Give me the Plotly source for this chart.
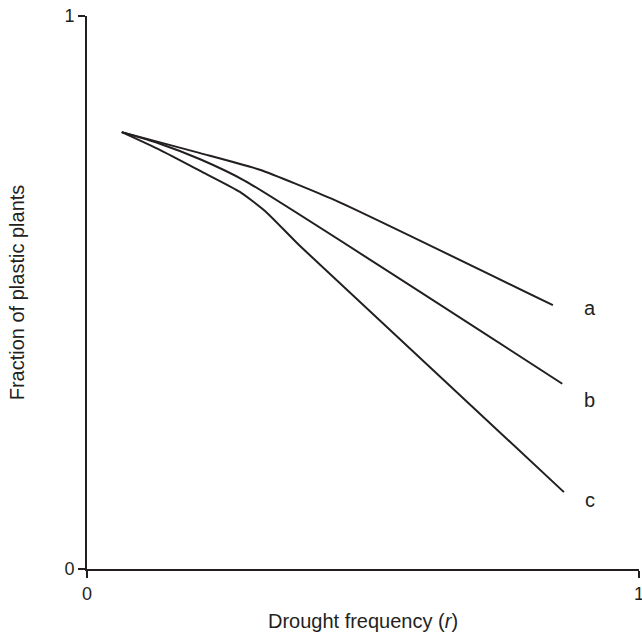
import plotly.graph_objects as go

# Data
x_a = [0.063, 0.205, 0.313, 0.449, 0.844]
y_a = [0.790, 0.752, 0.722, 0.667, 0.477]

x_b = [0.063, 0.132, 0.205, 0.286, 0.861]
y_b = [0.790, 0.769, 0.741, 0.702, 0.335]

x_c = [0.063, 0.132, 0.205, 0.277, 0.323, 0.386, 0.864]
y_c = [0.790, 0.758, 0.720, 0.682, 0.647, 0.584, 0.139]

curve_labels = ["a", "b", "c"]
label_x = [0.911, 0.911, 0.911]
label_y = [0.472, 0.306, 0.125]

tick_vals = [0, 1]
tick_text = ["0", "1"]

ink = "#231f20"
font = "Liberation Sans, Arial, sans-serif"

fig = go.Figure()
for xs, ys in [(x_a, y_a), (x_b, y_b), (x_c, y_c)]:
    fig.add_trace(go.Scatter(x=xs, y=ys, mode="lines",
                             line=dict(color=ink, width=2, shape="spline", smoothing=0.5),
                             showlegend=False, hoverinfo="skip"))

for t, lx, ly in zip(curve_labels, label_x, label_y):
    fig.add_annotation(x=lx, y=ly, text=t, showarrow=False,
                       xref="x", yref="y",
                       font=dict(family=font, size=20, color=ink))

axis_common = dict(range=[0, 1], tickvals=tick_vals, ticktext=tick_text,
                   showgrid=False, zeroline=False, showline=True,
                   linecolor=ink, linewidth=2, ticks="outside",
                   ticklen=7, tickwidth=2, tickcolor=ink,
                   ticklabeloverflow="allow", automargin=False,
                   tickfont=dict(family=font, size=18, color=ink))

fig.update_xaxes(**axis_common,
                 title=dict(text="Drought frequency (<i>r</i>)",
                            font=dict(family=font, size=20, color=ink),
                            standoff=11))
fig.update_yaxes(**axis_common,
                 title=dict(text="Fraction of plastic plants",
                            font=dict(family=font, size=20, color=ink),
                            standoff=34))

fig.update_layout(width=642, height=635,
                  margin=dict(l=87, r=3, t=16, b=66),
                  plot_bgcolor="white", paper_bgcolor="white")

fig.write_html("out.html")
